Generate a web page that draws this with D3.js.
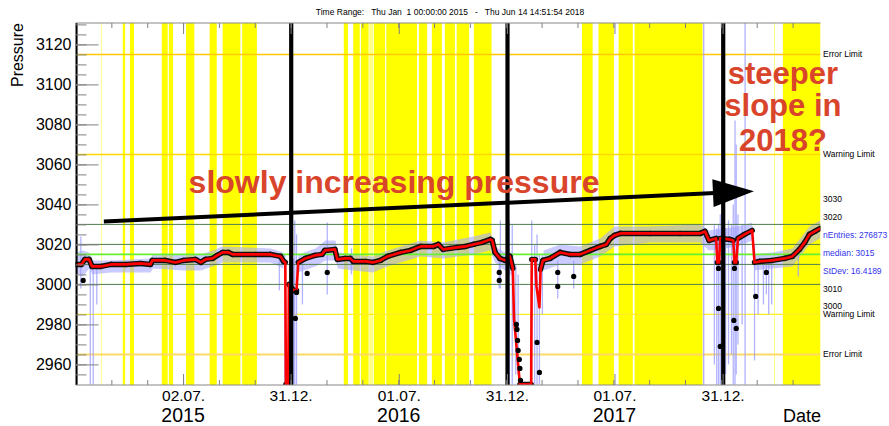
<!DOCTYPE html>
<html><head><meta charset="utf-8">
<script src="https://cdn.jsdelivr.net/npm/d3@7"></script>
<style>
html,body{margin:0;padding:0;background:#fff;}
svg{display:block;font-family:"Liberation Sans",Arial,Helvetica,sans-serif;}
</style></head><body>
<svg id="chart" width="889" height="426"></svg>
<script>
// ---------------- data ----------------
const timeRange = ["2015-01-01T00:00:00", "2018-06-14T14:51:54"];
const titleText = "Time Range:   Thu Jan  1 00:00:00 2015   -   Thu Jun 14 14:51:54 2018";
const yDomain = [2949.7, 3130.7];
const yTicks = [2960, 2980, 3000, 3020, 3040, 3060, 3080, 3100, 3120];
const xTickDates = ["2015-07-02", "2015-12-31", "2016-07-01", "2016-12-31", "2017-07-01", "2017-12-31"];
const xTickLabels = ["02.07.", "31.12.", "01.07.", "31.12.", "01.07.", "31.12."];
const yearLabelDates = ["2015-07-02", "2016-07-01", "2017-07-01"];
const yearLabels = ["2015", "2016", "2017"];
const yearBoundaries = ["2015-01-01", "2016-01-01", "2017-01-01", "2018-01-01"];

const yellowBands = [
  ["2015-03-22", "2015-03-26"], ["2015-04-03", "2015-04-10"], ["2015-05-27", "2015-06-06"],
  ["2015-06-08", "2015-06-15"], ["2015-07-07", "2015-07-21"], ["2015-08-16", "2015-08-28"],
  ["2015-09-07", "2015-10-07"], ["2015-10-10", "2015-11-04"],
  ["2016-03-30", "2016-04-06"], ["2016-04-15", "2016-04-26"], ["2016-04-28", "2016-05-11"],
  ["2016-05-20", "2016-06-08"], ["2016-06-10", "2016-08-01"], ["2016-08-04", "2016-08-18"],
  ["2016-08-26", "2016-09-12"], ["2016-09-17", "2016-10-04"], ["2016-10-07", "2016-10-28"],
  ["2016-11-05", "2016-12-05"],
  ["2017-05-07", "2017-05-25"], ["2017-06-04", "2017-06-30"], ["2017-07-08", "2017-08-01"],
  ["2017-08-04", "2017-11-27"],
  ["2018-04-12", "2018-06-14T14:51:54"]
];
const paleBands = [["2015-02-13", "2015-02-14"], ["2016-05-12", "2016-05-19"], ["2018-03-28", "2018-03-29"]];

const limitValues = [3115, 3065, 2985, 2965];
const limitNames = ["Error Limit", "Warning Limit", "Warning Limit", "Error Limit"];
const gridValues = [3030, 3020, 3010, 3000];
const medianValue = 3015;
const sideLabels = ["3030", "3020", "nEntries: 276873", "median: 3015", "StDev: 16.4189", "3010", "3000"];
const sideLabelValues = [3042.5, 3033.5, 3024.5, 3015.5, 3006.5, 2997.5, 2989];
const sideLabelIsStat = [false, false, true, true, true, false, false];

// smoothed pressure (red)
const smoothDates = ["2015-01-01","2015-01-11","2015-01-17","2015-01-24","2015-01-29","2015-02-13","2015-03-02","2015-03-27","2015-04-21","2015-05-08","2015-05-11","2015-06-02","2015-06-19","2015-07-03","2015-07-23","2015-08-01","2015-08-09","2015-08-21","2015-08-29","2015-09-07","2015-09-17","2015-09-24","2015-11-02","2015-11-27","2015-12-14","2015-12-19","2015-12-22","2015-12-23","2015-12-27","2015-12-28","2016-01-05","2016-01-10","2016-01-13","2016-01-25","2016-02-10","2016-02-22","2016-02-27","2016-03-15","2016-03-19","2016-04-01","2016-04-10","2016-04-15","2016-05-06","2016-05-18","2016-05-31","2016-06-12","2016-07-04","2016-07-21","2016-08-07","2016-08-29","2016-09-06","2016-09-14","2016-09-26","2016-10-08","2016-10-22","2016-11-04","2016-11-19","2016-12-03","2016-12-06","2016-12-11","2016-12-19","2016-12-28","2017-01-05","2017-01-10","2017-01-12","2017-01-22","2017-02-10","2017-02-11","2017-02-17","2017-02-19","2017-02-24","2017-02-26","2017-03-02","2017-03-14","2017-03-31","2017-04-17","2017-05-04","2017-05-21","2017-06-07","2017-06-17","2017-06-24","2017-07-01","2017-07-11","2017-08-30","2017-10-20","2017-11-23","2017-12-01","2017-12-08","2017-12-20","2017-12-22","2017-12-25","2017-12-27","2018-01-12","2018-01-18","2018-01-20","2018-01-23","2018-01-26","2018-02-06","2018-02-19","2018-02-23","2018-03-03","2018-03-25","2018-04-15","2018-04-28","2018-05-10","2018-05-19","2018-05-27","2018-06-05","2018-06-14"];
const smoothValues = [3010,3010,3012.5,3012.5,3009,3009,3010,3010,3010.5,3010,3012,3012,3011,3012,3012.5,3011,3012.5,3013,3014.5,3016,3016,3015,3015,3015,3014,3011.5,3011,2950,2950,3000,2997,2997,3011,3013,3014.5,3015,3017,3017.5,3012.5,3013,3013,3011.5,3011.5,3011,3012,3014,3016,3017,3019,3019,3020,3017.5,3018,3018.5,3019,3020,3021,3022.5,3022,3016,3013,3012,3014,3008,2983,2950,2950,3012.5,3012.5,2999,2988.5,3007.5,3012,3013,3016,3015,3015,3017,3019,3020,3023,3024.5,3025.5,3025.5,3025.5,3025.5,3026.5,3022,3023,3011,3011,3023,3022.5,3022,3011,3011,3023,3025,3027,3011,3011.5,3012,3013,3014,3017.5,3021,3025,3026.5,3028];

// raw readings envelope (blue)
const rawDates = ["2015-01-01","2015-01-14","2015-01-24","2015-01-30","2015-03-01","2015-05-08","2015-05-12","2015-07-04","2015-08-01","2015-08-21","2015-09-07","2015-11-27","2015-12-19"];
const rawLo = [3006,3004,3008,3005,3006,3006,3008,3007,3007,3009,3011,3011,3008];
const rawHi = [3016,3017,3016,3012,3012,3013,3015,3015,3015,3017,3019,3018,3016];
const rawDates2 = ["2016-01-13","2016-02-11","2016-02-28","2016-03-16","2016-03-20","2016-04-15","2016-05-18","2016-06-12","2016-08-07","2016-09-14","2016-11-04","2016-12-03","2016-12-11","2016-12-28","2017-01-11"];
const rawLo2 = [3006,3009,3012,3012,3008,3007,3006,3009,3014,3013,3015,3017,3011,3007,3004];
const rawHi2 = [3015,3018,3022,3022,3016,3015,3014,3017,3022,3021,3024,3026,3019,3016,3016];
const rawDates3 = ["2017-03-03","2017-03-31","2017-05-04","2017-06-07","2017-07-01","2017-08-30","2017-11-23","2017-12-08","2018-01-26","2018-02-19","2018-02-23","2018-03-25","2018-04-28","2018-05-27","2018-06-14"];
const rawLo3 = [3007,3010,3010,3014,3019,3021,3021,3017,3019,3022,3007,3008,3009,3020,3023];
const rawHi3 = [3017,3020,3019,3023,3029,3029,3030,3027,3029,3031,3015,3016,3018,3029,3032];

// isolated raw spikes (date, low, high)
const spikeDates = ["2015-01-10","2015-01-26","2015-01-31","2015-02-06","2015-12-12","2015-12-21","2016-01-05","2016-01-07","2016-01-10","2016-01-20","2016-03-02","2016-04-12","2016-12-18","2016-12-20","2016-12-31","2017-01-04","2017-01-09","2017-01-15","2017-01-19","2017-02-11","2017-02-16","2017-02-20","2017-02-24","2017-03-01","2017-03-27","2017-04-23","2017-11-29","2017-12-17","2017-12-21","2017-12-24","2017-12-27","2018-01-01","2018-01-05","2018-01-10","2018-01-15","2018-01-18","2018-01-21","2018-01-23","2018-01-26","2018-02-02","2018-02-07","2018-02-23","2018-03-01","2018-03-10","2018-03-15","2018-03-19","2018-03-24","2018-05-08"];
const spikeLo = [2998,2950,2950,2990,2997,2950,2950,2950,2950,2990,2995,3005,2998,2998,2950,2950,2950,2955,2955,2950,2950,2950,2950,2985,2993,2998,2950,2960,2950,2950,2950,2950,2955,2960,2965,2950,2950,2955,2970,2980,2950,2962,2985,2990,2995,2985,2990,3004];
const spikeHi = [3024,3010,3010,3010,3014,3015,3013,3032,3025,3012,3031,3018,3015,3032,3032,3032,3030,3010,3005,3032,3020,3025,3015,3015,3012,3012,3131,3030,3028,3030,3035,3030,3028,3032,3030,3040,3082,3070,3035,3030,3131,3020,3012,3012,3010,3012,3010,3015];

// daily means far from the smoothed curve (black dots)
const dotDates = ["2015-01-14","2016-01-08","2016-01-10","2016-01-28","2016-03-02","2016-12-18","2016-12-18","2017-01-16","2017-01-17","2017-01-18","2017-01-19","2017-01-21","2017-01-22","2017-01-23","2017-02-20","2017-02-24","2017-03-27","2017-03-27","2017-04-23","2017-12-24","2017-12-24","2017-12-27","2018-01-19","2018-01-20","2018-01-23","2018-02-25","2018-03-15"];
const dotValues = [3002,2983,2996,3005.5,3006,3006,3002,2980,2977.5,2972,2967,2962.5,2958,2952,2971,2956,3006,2999,3004,3008,2988,2969,2982,3008,2978,2994,3006];

// annotations
const trendArrow = [["2015-02-18", 3031.4], ["2018-02-22", 3046.6]];
const trendText = "slowly increasing pressure";
const trendTextAnchor = ["2016-06-23", 3045.8];
const questionLines = ["steeper", "slope in", "2018?"];
const questionAnchorDate = "2018-04-12";
const questionLineValues = [3100.3, 3084, 3066.5];

// ---------------- drawing ----------------
const pd = s => new Date(s.length === 10 ? s + "T00:00:00" : s);
const L = 75.5, R = 820.5, T = 23, B = 385;
const svg = d3.select("#chart");
const x = d3.scaleTime().domain(timeRange.map(pd)).range([L, R]);
const y = d3.scaleLinear().domain(yDomain).range([B, T]);

svg.append("defs").append("clipPath").attr("id", "plot")
  .append("rect").attr("x", L).attr("y", T).attr("width", R - L).attr("height", B - T);
const g = svg.append("g").attr("clip-path", "url(#plot)");

// title
svg.append("text").attr("x", 450).attr("y", 15).attr("text-anchor", "middle")
  .attr("font-size", 8.5).style("white-space", "pre").attr("fill", "#000").text(titleText);

// yellow bands
g.selectAll("rect.band").data(yellowBands).join("rect").attr("class", "band")
  .attr("x", d => x(pd(d[0]))).attr("width", d => Math.max(1, x(pd(d[1])) - x(pd(d[0]))))
  .attr("y", T).attr("height", B - T).attr("fill", "#ffff00");
g.selectAll("rect.pale").data(paleBands).join("rect").attr("class", "pale")
  .attr("x", d => x(pd(d[0]))).attr("width", d => Math.max(1, x(pd(d[1])) - x(pd(d[0]))))
  .attr("y", T).attr("height", B - T).attr("fill", "#ffff88");

// limit lines
const limitColors = ["#ffc800", "#ffd800", "#ffee22", "#ffd966"];
const limitWidths = [1.5, 1.5, 1.2, 2];
g.selectAll("line.limit").data(limitValues).join("line").attr("class", "limit")
  .attr("x1", L).attr("x2", R).attr("y1", d => y(d)).attr("y2", d => y(d))
  .attr("stroke", (d, i) => limitColors[i]).attr("stroke-width", (d, i) => limitWidths[i]);

// raw blue envelope
const area = d3.area().x(d => x(pd(d[0]))).y0(d => y(d[1])).y1(d => y(d[2]));
[[rawDates, rawLo, rawHi], [rawDates2, rawLo2, rawHi2], [rawDates3, rawLo3, rawHi3]].forEach(([ds, lo, hi]) => {
  const pts = ds.map((d, i) => [d, lo[i], hi[i]]);
  g.append("path").attr("d", area(pts)).attr("fill", "#a8a8ff").attr("opacity", 0.6);
});
g.selectAll("line.spike").data(spikeDates).join("line").attr("class", "spike")
  .attr("x1", d => x(pd(d))).attr("x2", d => x(pd(d)))
  .attr("y1", (d, i) => y(spikeLo[i])).attr("y2", (d, i) => y(spikeHi[i]))
  .attr("stroke", "#a0a0ff").attr("stroke-width", 1.3).attr("opacity", 0.8);

// grid lines (green)
g.selectAll("line.grid").data(gridValues).join("line").attr("class", "grid")
  .attr("x1", L).attr("x2", R).attr("y1", d => y(d)).attr("y2", d => y(d))
  .attr("stroke", "#4e7d4e").attr("stroke-width", 1);
g.append("line").attr("x1", L).attr("x2", R).attr("y1", y(medianValue)).attr("y2", y(medianValue))
  .attr("stroke", "#66ee33").attr("stroke-width", 1.6);

// smoothed curve with black daily-mean underlay
const smooth = smoothDates.map((d, i) => [pd(d), smoothValues[i]]);
const segs = [];
for (let i = 0; i < smooth.length - 1; i++) {
  if (Math.abs(smooth[i + 1][1] - smooth[i][1]) < 7) segs.push([smooth[i], smooth[i + 1]]);
}
g.selectAll("line.under").data(segs).join("line").attr("class", "under")
  .attr("x1", d => x(d[0][0])).attr("y1", d => y(d[0][1]))
  .attr("x2", d => x(d[1][0])).attr("y2", d => y(d[1][1]))
  .attr("stroke", "#111").attr("stroke-width", 5.5).attr("stroke-linecap", "round");
const line = d3.line().x(d => x(d[0])).y(d => y(d[1]));
g.append("path").attr("d", line(smooth)).attr("fill", "none")
  .attr("stroke", "#ff0000").attr("stroke-width", 2.6).attr("stroke-linejoin", "round");

// outlier dots
g.selectAll("circle.dot").data(dotDates).join("circle").attr("class", "dot")
  .attr("cx", d => x(pd(d))).attr("cy", (d, i) => y(dotValues[i])).attr("r", 2.6).attr("fill", "#000");

// year boundaries
g.selectAll("line.year").data(yearBoundaries).join("line").attr("class", "year")
  .attr("x1", d => x(pd(d))).attr("x2", d => x(pd(d))).attr("y1", T).attr("y2", B)
  .attr("stroke", "#000").attr("stroke-width", 4.2);

// frame
svg.append("line").attr("x1", L).attr("x2", R).attr("y1", T).attr("y2", T).attr("stroke", "#888");
svg.append("line").attr("x1", L).attr("x2", R).attr("y1", B).attr("y2", B).attr("stroke", "#888");

// axes
const majorX = xTickDates.map(pd);
const step = (majorX[1] - majorX[0]) / 3;
const minorX = [];
for (let t = +majorX[0] - 3 * step; t <= +x.domain()[1]; t += step) {
  if (t >= +x.domain()[0] + step * 0.2) minorX.push(new Date(t));
}
function tickAxis(axisFn, sc, vals, size, yPos, xPos) {
  const a = svg.append("g").attr("transform", `translate(${xPos || 0},${yPos || 0})`)
    .call(axisFn(sc).tickValues(vals).tickSize(size).tickFormat(""));
  a.select(".domain").remove();
  a.selectAll("line").attr("stroke", "#808080");
  return a;
}
tickAxis(d3.axisBottom, x, minorX, 5, T);
tickAxis(d3.axisBottom, x, majorX, 11, T);
tickAxis(d3.axisTop, x, minorX, 5, B);
tickAxis(d3.axisTop, x, majorX, 11, B);

const yMinor = d3.range(2955, 3131, 5);
tickAxis(d3.axisRight, y, yMinor, 11, 0, L);
tickAxis(d3.axisRight, y, yTicks, 23, 0, L);

const yl = svg.append("g").attr("transform", `translate(${L},0)`)
  .call(d3.axisLeft(y).tickValues(yTicks).tickSize(0).tickPadding(4).tickFormat(d3.format("d")));
yl.select(".domain").remove();
yl.selectAll("text").attr("font-size", 16).attr("font-family", "Liberation Sans, Arial, sans-serif").attr("fill", "#000");

const xl = svg.append("g").attr("transform", `translate(0,${B})`)
  .call(d3.axisBottom(x).tickValues(majorX).tickSize(0).tickPadding(4.5).tickFormat((d, i) => xTickLabels[i]));
xl.select(".domain").remove();
xl.selectAll("text").attr("font-size", 15.5).attr("font-family", "Liberation Sans, Arial, sans-serif").attr("fill", "#000");

svg.selectAll("text.year").data(yearLabelDates).join("text").attr("class", "year")
  .attr("x", d => x(pd(d))).attr("y", 421.6).attr("text-anchor", "middle")
  .attr("font-size", 19.5).text((d, i) => yearLabels[i]);
svg.append("text").attr("x", 821).attr("y", 421.6).attr("text-anchor", "end").attr("font-size", 18).text("Date");
svg.append("text").attr("transform", "translate(23,23) rotate(-90)").attr("text-anchor", "end")
  .attr("font-size", 16).text("Pressure");

// right-side labels
svg.selectAll("text.lim").data(limitValues).join("text").attr("class", "lim")
  .attr("x", 823).attr("y", d => y(d) + 3).attr("font-size", 8.5).text((d, i) => limitNames[i]);
svg.selectAll("text.side").data(sideLabelValues).join("text").attr("class", "side")
  .attr("x", 823).attr("y", d => y(d) + 3).attr("font-size", 8.5)
  .attr("fill", (d, i) => sideLabelIsStat[i] ? "#3333ee" : "#000").text((d, i) => sideLabels[i]);

// annotations
const a0 = [x(pd(trendArrow[0][0])), y(trendArrow[0][1])];
const a1 = [x(pd(trendArrow[1][0])), y(trendArrow[1][1])];
const ang = Math.atan2(a1[1] - a0[1], a1[0] - a0[0]);
const headLen = 41, headHalf = 14;
const base = [a1[0] - headLen * Math.cos(ang), a1[1] - headLen * Math.sin(ang)];
svg.append("line").attr("x1", a0[0]).attr("y1", a0[1]).attr("x2", base[0] + 2 * Math.cos(ang)).attr("y2", base[1] + 2 * Math.sin(ang))
  .attr("stroke", "#000").attr("stroke-width", 4);
svg.append("polygon").attr("points", [
  a1,
  [base[0] - headHalf * Math.sin(ang), base[1] + headHalf * Math.cos(ang)],
  [base[0] + headHalf * Math.sin(ang), base[1] - headHalf * Math.cos(ang)]
].map(p => p.join(",")).join(" ")).attr("fill", "#000");

const red = "#d9452b";
svg.append("text").attr("x", x(pd(trendTextAnchor[0]))).attr("y", y(trendTextAnchor[1]))
  .attr("text-anchor", "middle").attr("font-size", 32).attr("font-weight", "bold").attr("fill", red).text(trendText);
svg.selectAll("text.q").data(questionLines).join("text").attr("class", "q")
  .attr("x", x(pd(questionAnchorDate))).attr("y", (d, i) => y(questionLineValues[i]))
  .attr("text-anchor", "middle").attr("font-size", 31).attr("font-weight", "bold").attr("fill", red).text(d => d);
</script>
</body></html>
